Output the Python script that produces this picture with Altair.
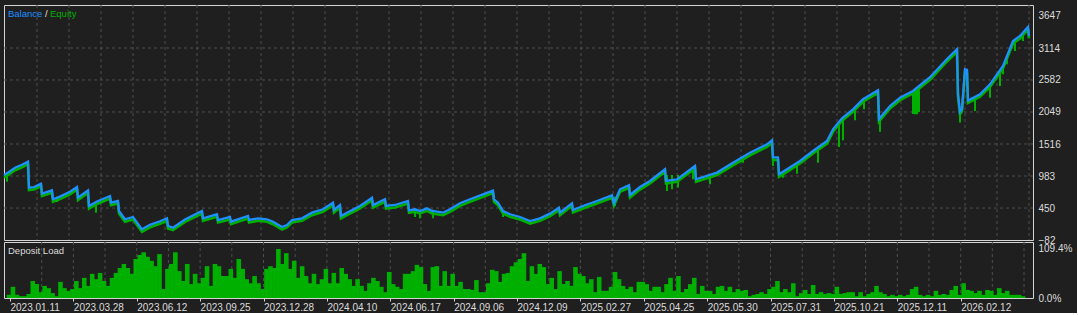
import altair as alt
import pandas as pd

# ---------------- data ----------------
# Balance curve: trade index -> balance
bal_trade = [4, 8, 15, 22, 28, 29, 34, 41, 42, 52, 53, 60, 70, 77, 78, 88, 89, 97, 110, 111,
             118, 119, 125, 133, 142, 150, 160, 167, 168, 173, 185, 202, 203, 217, 218, 230, 231,
             248, 249, 258, 267, 273, 282, 287, 292, 302, 312, 323, 333, 334, 340, 341, 347, 360,
             372, 373, 385, 386, 395, 408, 409, 415, 420, 427, 432, 443, 450, 460, 470, 483, 493,
             494, 498, 503, 510, 520, 530, 540, 550, 559, 560, 572, 573, 583, 597, 612, 614, 620,
             629, 630, 640, 650, 665, 666, 677, 695, 696, 717, 733, 750, 767, 772, 773, 778, 779,
             787, 800, 813, 827, 833, 842, 853, 863, 878, 879, 890, 900, 913, 930, 947, 957, 958,
             960, 962, 965, 967, 968, 980, 990, 1003, 1013, 1020, 1028, 1029]
bal_value = [1000, 1040, 1120, 1170, 1222, 790, 800, 855, 690, 745, 596, 640, 720, 800, 622, 745, 484, 560, 650, 540,
             567, 401, 263, 301, 96, 170, 230, 279, 151, 123, 260, 401, 279, 346, 251, 301, 223,
             318, 251, 279, 263, 223, 134, 168, 251, 279, 373, 429, 539, 418, 501, 318, 373, 484,
             622, 501, 596, 484, 501, 567, 412, 429, 401, 445, 401, 373, 429, 529, 596, 678, 740,
             596, 540, 401, 346, 301, 234, 279, 357, 457, 373, 529, 418, 484, 567, 662, 529, 762,
             829, 667, 800, 900, 1095, 900, 928, 1150, 929, 1040, 1203, 1370, 1511, 1578, 1292, 1292, 1012,
             1095, 1233, 1400, 1566, 1761, 1944, 2094, 2261, 2410, 1931, 2149, 2288, 2399, 2627, 2932, 3093, 2350,
             2050, 2100, 2760, 2750, 2240, 2344, 2510, 2815, 3231, 3315, 3464, 3315]

# Equity dips below balance
dip_trade = [7, 57, 96, 118, 415, 420, 433, 503, 615, 667, 672, 678, 693, 710, 743, 773, 783, 797,
             818, 839, 843, 855, 864, 880, 913, 915, 917, 919, 960, 975, 990, 1000, 1003, 1007, 1015, 1023]
dip_top = [1030, 640, 500, 560, 430, 420, 420, 401, 640, 1000, 1000, 1000, 1140, 1012, 1290, 1290, 1050, 1200,
           1450, 1850, 1944, 2110, 2260, 1930, 2399, 2410, 2420, 2430, 2100, 2290, 2510, 2700, 2815, 2950, 3250, 3380]
dip_low = [889, 550, 373, 430, 301, 279, 279, 300, 484, 734, 762, 790, 929, 845, 1203, 1150, 956, 1022,
           1203, 1466, 1578, 1911, 2094, 1722, 2015, 2011, 2011, 2050, 1873, 2066, 2287, 2482, 2677, 2843, 3065, 3231]

# Deposit load, % (one value per 4 trades)
load_pct = [7, 25, 7, 4, 4, 9, 38, 31, 13, 27, 22, 11, 4, 36, 22, 16,
            20, 38, 22, 45, 27, 54, 42, 56, 38, 27, 45, 56, 67, 76, 67, 54,
            87, 96, 102, 92, 83, 71, 98, 20, 65, 76, 102, 60, 38, 76, 31, 54,
            33, 45, 71, 27, 76, 71, 49, 49, 65, 45, 87, 65, 42, 33, 49, 33,
            20, 65, 71, 67, 109.4, 76, 100, 65, 83, 45, 71, 49, 33, 54, 31, 42,
            65, 33, 56, 33, 67, 54, 42, 27, 42, 27, 16, 33, 45, 38, 25, 13,
            58, 31, 25, 20, 54, 54, 60, 74, 69, 31, 16, 69, 71, 27, 60, 27,
            54, 27, 36, 20, 20, 18, 40, 13, 13, 33, 63, 60, 36, 54, 56, 71,
            80, 87, 100, 38, 71, 54, 76, 69, 31, 45, 20, 60, 31, 38, 27, 69,
            54, 49, 33, 42, 13, 47, 16, 16, 25, 58, 42, 27, 20, 25, 13, 36,
            36, 31, 16, 25, 25, 13, 31, 45, 16, 49, 13, 20, 31, 45, 9, 27,
            16, 16, 9, 25, 27, 16, 25, 13, 20, 16, 18, 4, 7, 9, 13, 9,
            20, 25, 38, 13, 20, 13, 33, 4, 11, 18, 9, 29, 9, 13, 9, 11,
            9, 25, 9, 11, 13, 13, 4, 13, 4, 9, 13, 27, 13, 9, 4, 7,
            4, 7, 4, 7, 20, 25, 7, 4, 7, 4, 16, 7, 9, 7, 18, 27,
            7, 33, 18, 16, 11, 16, 7, 18, 16, 7, 22, 11, 16, 7, 7, 7,
            4]
load_trade = [4 + 4 * i for i in range(len(load_pct))]

date_labels = ["2023.01.11", "2023.03.28", "2023.06.12", "2023.09.25", "2023.12.28", "2024.04.10",
               "2024.06.17", "2024.09.06", "2024.12.09", "2025.02.27", "2025.04.25", "2025.05.30",
               "2025.07.31", "2025.10.21", "2025.12.11", "2026.02.12"]
date_trade = [5 + 64 * i for i in range(len(date_labels))]

bal_ticks = [-82, 450, 983, 1516, 2049, 2582, 3114, 3647]
bal_grid = [450, 983, 1516, 2049, 2582, 3114]
load_ticks = [0, 109.4]

# ---------------- style ----------------
BG = "#1f1f1f"
BORDER = "#d4d4d4"
GRID = "#4e4e4e"
TXT = "#dcdcdc"
BLUE = "#1e90ff"
GREEN = "#00b000"
FONT = "Liberation Sans"
FS = 10

W = 1029
XDOM = [4, 4 + W]
xs = alt.Scale(domain=XDOM, nice=False, zero=False)

bal_df = pd.DataFrame({"trade": bal_trade, "balance": bal_value})
dip_df = pd.DataFrame({"trade": dip_trade, "top": dip_top, "low": dip_low})
load_df = pd.DataFrame({"trade": load_trade, "load": load_pct})
vgrid_df = pd.DataFrame({"trade": list(range(37, 1031, 32))})
hgrid_df = pd.DataFrame({"balance": bal_grid})

ys_top = alt.Scale(domain=[-82, 3830], nice=False, zero=False)
yax_top = alt.Axis(orient="right", values=bal_ticks, grid=False, ticks=False, domain=False,
                   labelPadding=5, labelFlush=False, labelOverlap=False, title=None, format="d")


def ytop(field):
    return alt.Y(field, type="quantitative", scale=ys_top, axis=yax_top, title=None)


def xnone():
    return alt.X("trade:Q", scale=xs, axis=None)


hgrid = alt.Chart(hgrid_df).mark_rule(color=GRID, strokeDash=[3, 3], strokeWidth=1).encode(
    y=ytop("balance"))
vgrid = alt.Chart(vgrid_df).mark_rule(color=GRID, strokeDash=[3, 3], strokeWidth=1).encode(
    x=xnone())
dips = alt.Chart(dip_df).mark_rule(color=GREEN, strokeWidth=2).encode(
    x=xnone(), y=ytop("top"), y2="low")
band = alt.Chart(bal_df).mark_line(color=GREEN, strokeWidth=2.6, yOffset=2.5).encode(
    x=xnone(), y=ytop("balance"))
line = alt.Chart(bal_df).mark_line(color=BLUE, strokeWidth=2.3).encode(
    x=xnone(), y=ytop("balance"))

LFS = 9.5
leg_bal = alt.Chart(pd.DataFrame({"t": ["Balance"]})).mark_text(
    align="left", baseline="middle", font=FONT, fontSize=LFS, color=BLUE).encode(
    text="t:N", x=alt.value(4), y=alt.value(9))
leg_sl = alt.Chart(pd.DataFrame({"t": ["/"]})).mark_text(
    align="left", baseline="middle", font=FONT, fontSize=LFS, color="#e8e0d0").encode(
    text="t:N", x=alt.value(41), y=alt.value(9))
leg_eq = alt.Chart(pd.DataFrame({"t": ["Equity"]})).mark_text(
    align="left", baseline="middle", font=FONT, fontSize=LFS, color=GREEN).encode(
    text="t:N", x=alt.value(46), y=alt.value(9))

top = alt.layer(hgrid, vgrid, dips, band, line, leg_bal, leg_sl, leg_eq).properties(
    width=W, height=235)

# bottom panel
label_expr = "''"
for t, lab in reversed(list(zip(date_trade, date_labels))):
    label_expr = f"datum.value == {t} ? '{lab}' : ({label_expr})"

xax_bot = alt.Axis(values=date_trade, labelExpr=label_expr, labelAlign="left",
                   labelPadding=1, tickSize=3, tickColor=BORDER, domain=False, grid=False,
                   labelFlush=False, labelOverlap=False, title=None)
ys_bot = alt.Scale(domain=[0, 125], nice=False, zero=True)
yax_bot = alt.Axis(orient="right", values=load_ticks, grid=False, ticks=False, domain=False,
                   labelPadding=5, labelFlush=False, labelOverlap=False, title=None,
                   labelExpr="format(datum.value, '.1f') + '%'")


def xbot():
    return alt.X("trade:Q", scale=xs, axis=xax_bot, title=None)


vgrid_b = alt.Chart(vgrid_df).mark_rule(color=GRID, strokeDash=[3, 3], strokeWidth=1).encode(
    x=xbot())
bars = alt.Chart(load_df).mark_bar(color=GREEN, size=4.6, clip=True).encode(
    x=xbot(), y=alt.Y("load:Q", scale=ys_bot, axis=yax_bot, title=None))
dl_text = alt.Chart(pd.DataFrame({"t": ["Deposit Load"]})).mark_text(
    align="left", baseline="middle", font=FONT, fontSize=LFS, color=TXT).encode(
    text="t:N", x=alt.value(4), y=alt.value(9))

bottom = alt.layer(vgrid_b, bars, dl_text).properties(width=W, height=56)

chart = alt.vconcat(top, bottom, spacing=2, bounds="flush").properties(
    background=BG,
    padding={"left": -2, "top": 4, "right": 4, "bottom": 0},
).configure_view(
    stroke=BORDER, strokeWidth=1, fill=BG
).configure_axis(
    labelFont=FONT, labelFontSize=FS, labelColor=TXT
)

chart.save("out.html", embed_options={"renderer": "svg", "actions": False})
